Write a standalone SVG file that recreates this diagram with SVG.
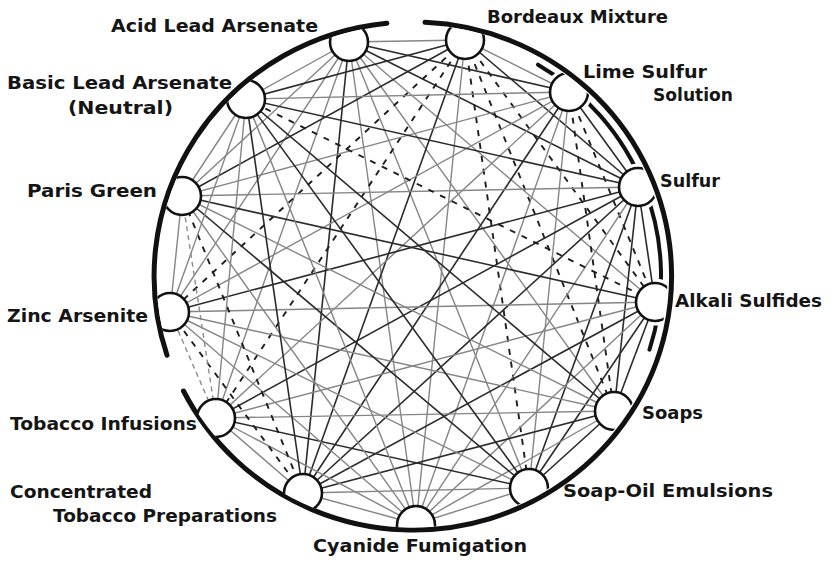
<svg xmlns="http://www.w3.org/2000/svg" width="832" height="563" viewBox="0 0 832 563">
<style>
.g{stroke:#858585;stroke-width:1.4;fill:none}
.k{stroke:#2b2b2b;stroke-width:1.6;fill:none}
.d{stroke:#1e1e1e;stroke-width:1.9;stroke-dasharray:6 7;fill:none}
.dg{stroke:#8c8c8c;stroke-width:1.4;stroke-dasharray:5 4;fill:none}
.arc{stroke:#111;stroke-width:5;fill:none;stroke-linecap:round}
.arc2{stroke:#111;stroke-width:4;fill:none;stroke-linecap:round}
.node{fill:#fff;stroke:#111;stroke-width:2.6}
.halo{fill:none;stroke:#fff;stroke-width:9}
text{font-family:"DejaVu Sans","Liberation Sans",sans-serif;font-weight:bold;font-size:18px;fill:#151515}
</style>
<defs>
<clipPath id="inside"><ellipse cx="412" cy="276" rx="255.5" ry="251.5"/></clipPath>
</defs>
<rect width="832" height="563" fill="#fff"/>
<g id="brackets">
<path class="arc2" d="M538,64.7 A249,245 0 0 1 649.5,349.7"/>
<g clip-path="url(#inside)">
<circle class="halo" cx="569" cy="92" r="19"/>
<circle class="halo" cx="638" cy="187" r="19"/>
<circle class="halo" cx="655" cy="302" r="19"/>
</g>
<path class="arc" d="M386.9,23.2 A258,254 0 0 0 167,355.3"/>
<path class="arc" d="M425,22.3 A258,254 0 1 1 183.5,391"/>
</g>
<g id="connectors">
<line class="g" x1="349" y1="42" x2="465" y2="40"/>
<line class="k" x1="349" y1="42" x2="569" y2="92"/>
<line class="k" x1="349" y1="42" x2="638" y2="187"/>
<line class="g" x1="349" y1="42" x2="655" y2="302"/>
<line class="g" x1="349" y1="42" x2="614" y2="411"/>
<line class="g" x1="349" y1="42" x2="529" y2="488"/>
<line class="g" x1="349" y1="42" x2="416" y2="524"/>
<line class="k" x1="349" y1="42" x2="303" y2="493"/>
<line class="g" x1="349" y1="42" x2="216" y2="418"/>
<line class="g" x1="349" y1="42" x2="170" y2="312"/>
<line class="g" x1="349" y1="42" x2="182" y2="196"/>
<line class="g" x1="349" y1="42" x2="246" y2="99"/>
<line class="g" x1="465" y1="40" x2="569" y2="92"/>
<line class="k" x1="465" y1="40" x2="638" y2="187"/>
<line class="d" x1="465" y1="40" x2="655" y2="302"/>
<line class="d" x1="465" y1="40" x2="614" y2="411"/>
<line class="d" x1="465" y1="40" x2="529" y2="488"/>
<line class="g" x1="465" y1="40" x2="416" y2="524"/>
<line class="k" x1="465" y1="40" x2="303" y2="493"/>
<line class="d" x1="465" y1="40" x2="216" y2="418"/>
<line class="d" x1="465" y1="40" x2="170" y2="312"/>
<line class="k" x1="465" y1="40" x2="182" y2="196"/>
<line class="k" x1="465" y1="40" x2="246" y2="99"/>
<line class="k" x1="569" y1="92" x2="638" y2="187"/>
<line class="d" x1="569" y1="92" x2="655" y2="302"/>
<line class="d" x1="569" y1="92" x2="614" y2="411"/>
<line class="g" x1="569" y1="92" x2="529" y2="488"/>
<line class="g" x1="569" y1="92" x2="416" y2="524"/>
<line class="k" x1="569" y1="92" x2="303" y2="493"/>
<line class="g" x1="569" y1="92" x2="216" y2="418"/>
<line class="g" x1="569" y1="92" x2="170" y2="312"/>
<line class="g" x1="569" y1="92" x2="182" y2="196"/>
<line class="g" x1="569" y1="92" x2="246" y2="99"/>
<line class="k" x1="638" y1="187" x2="655" y2="302"/>
<line class="k" x1="638" y1="187" x2="614" y2="411"/>
<line class="k" x1="638" y1="187" x2="529" y2="488"/>
<line class="g" x1="638" y1="187" x2="416" y2="524"/>
<line class="k" x1="638" y1="187" x2="303" y2="493"/>
<line class="k" x1="638" y1="187" x2="216" y2="418"/>
<line class="k" x1="638" y1="187" x2="170" y2="312"/>
<line class="g" x1="638" y1="187" x2="182" y2="196"/>
<line class="k" x1="638" y1="187" x2="246" y2="99"/>
<line class="k" x1="655" y1="302" x2="614" y2="411"/>
<line class="k" x1="655" y1="302" x2="529" y2="488"/>
<line class="g" x1="655" y1="302" x2="416" y2="524"/>
<line class="k" x1="655" y1="302" x2="303" y2="493"/>
<line class="g" x1="655" y1="302" x2="216" y2="418"/>
<line class="g" x1="655" y1="302" x2="170" y2="312"/>
<line class="k" x1="655" y1="302" x2="182" y2="196"/>
<line class="d" x1="655" y1="302" x2="246" y2="99"/>
<line class="k" x1="614" y1="411" x2="529" y2="488"/>
<line class="g" x1="614" y1="411" x2="416" y2="524"/>
<line class="k" x1="614" y1="411" x2="303" y2="493"/>
<line class="g" x1="614" y1="411" x2="216" y2="418"/>
<line class="g" x1="614" y1="411" x2="170" y2="312"/>
<line class="g" x1="614" y1="411" x2="182" y2="196"/>
<line class="k" x1="614" y1="411" x2="246" y2="99"/>
<line class="g" x1="529" y1="488" x2="416" y2="524"/>
<line class="g" x1="529" y1="488" x2="303" y2="493"/>
<line class="k" x1="529" y1="488" x2="216" y2="418"/>
<line class="g" x1="529" y1="488" x2="170" y2="312"/>
<line class="k" x1="529" y1="488" x2="182" y2="196"/>
<line class="k" x1="529" y1="488" x2="246" y2="99"/>
<line class="g" x1="416" y1="524" x2="303" y2="493"/>
<line class="g" x1="416" y1="524" x2="216" y2="418"/>
<line class="g" x1="416" y1="524" x2="170" y2="312"/>
<line class="g" x1="416" y1="524" x2="182" y2="196"/>
<line class="g" x1="416" y1="524" x2="246" y2="99"/>
<line class="g" x1="303" y1="493" x2="216" y2="418"/>
<line class="d" x1="303" y1="493" x2="170" y2="312"/>
<line class="d" x1="303" y1="493" x2="182" y2="196"/>
<line class="k" x1="303" y1="493" x2="246" y2="99"/>
<line class="dg" x1="216" y1="418" x2="170" y2="312"/>
<line class="dg" x1="216" y1="418" x2="182" y2="196"/>
<line class="g" x1="216" y1="418" x2="246" y2="99"/>
<line class="g" x1="170" y1="312" x2="182" y2="196"/>
<line class="g" x1="170" y1="312" x2="246" y2="99"/>
<line class="g" x1="182" y1="196" x2="246" y2="99"/>
</g>
<g clip-path="url(#inside)">
<g id="node-acid-lead"><circle class="node" cx="349" cy="42" r="19"/></g>
<g id="node-bordeaux"><circle class="node" cx="465" cy="40" r="19"/></g>
<g id="node-lime-sulfur"><circle class="node" cx="569" cy="92" r="19"/></g>
<g id="node-sulfur"><circle class="node" cx="638" cy="187" r="19"/></g>
<g id="node-alkali"><circle class="node" cx="655" cy="302" r="19"/></g>
<g id="node-soaps"><circle class="node" cx="614" cy="411" r="19"/></g>
<g id="node-soap-oil"><circle class="node" cx="529" cy="488" r="19"/></g>
<g id="node-cyanide"><circle class="node" cx="416" cy="525" r="19"/></g>
<g id="node-conc-tobacco"><circle class="node" cx="303" cy="493" r="19"/></g>
<g id="node-tobacco-inf"><circle class="node" cx="216" cy="418" r="19"/></g>
<g id="node-zinc"><circle class="node" cx="170" cy="312" r="19"/></g>
<g id="node-paris"><circle class="node" cx="182" cy="196" r="19"/></g>
<g id="node-basic-lead"><circle class="node" cx="246" cy="99" r="19"/></g>
</g>
<g id="labels">
<text x="111" y="32" textLength="207" lengthAdjust="spacingAndGlyphs">Acid Lead Arsenate</text>
<text x="487" y="23" textLength="181" lengthAdjust="spacingAndGlyphs">Bordeaux Mixture</text>
<text x="583" y="78" textLength="124" lengthAdjust="spacingAndGlyphs">Lime Sulfur</text>
<text x="653" y="101" textLength="80" lengthAdjust="spacingAndGlyphs">Solution</text>
<text x="660" y="187" textLength="60" lengthAdjust="spacingAndGlyphs">Sulfur</text>
<text x="675" y="307" textLength="147" lengthAdjust="spacingAndGlyphs">Alkali Sulfides</text>
<text x="642" y="419" textLength="61" lengthAdjust="spacingAndGlyphs">Soaps</text>
<text x="563" y="497" textLength="210" lengthAdjust="spacingAndGlyphs">Soap-Oil Emulsions</text>
<text x="313" y="552" textLength="214" lengthAdjust="spacingAndGlyphs">Cyanide Fumigation</text>
<text x="10" y="498" textLength="142" lengthAdjust="spacingAndGlyphs">Concentrated</text>
<text x="53" y="522" textLength="224" lengthAdjust="spacingAndGlyphs">Tobacco Preparations</text>
<text x="10" y="430" textLength="187" lengthAdjust="spacingAndGlyphs">Tobacco Infusions</text>
<text x="7" y="322" textLength="141" lengthAdjust="spacingAndGlyphs">Zinc Arsenite</text>
<text x="27" y="197" textLength="130" lengthAdjust="spacingAndGlyphs">Paris Green</text>
<text x="7" y="89" textLength="225" lengthAdjust="spacingAndGlyphs">Basic Lead Arsenate</text>
<text x="68" y="114" textLength="105" lengthAdjust="spacingAndGlyphs">(Neutral)</text>
</g>
</svg>
